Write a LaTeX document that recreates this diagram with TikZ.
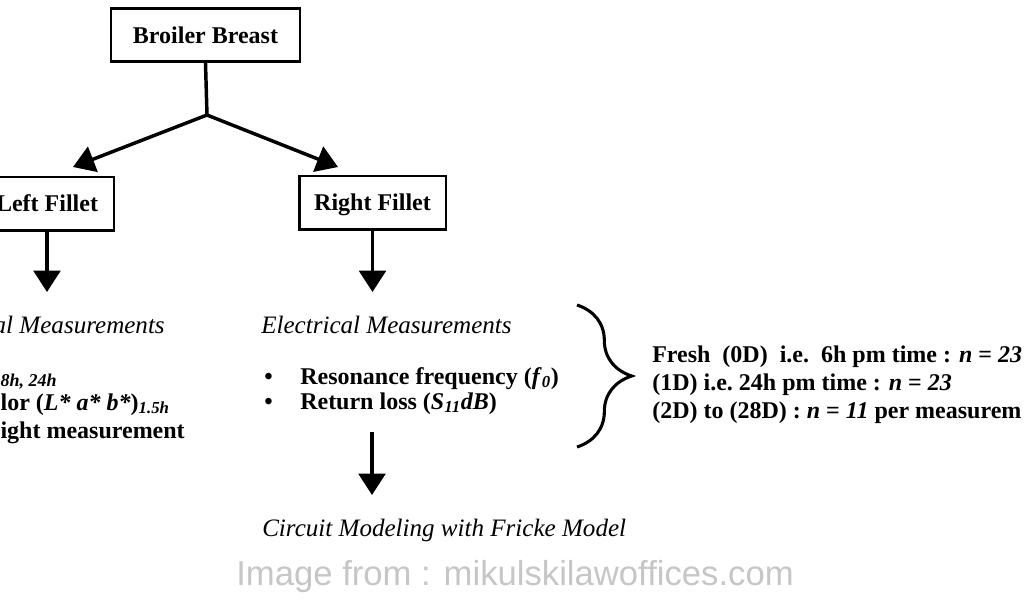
\documentclass[tikz,border=0pt]{standalone}
\usepackage{fontspec}
\setmainfont{Liberation Serif}
\newfontfamily\markfont{Liberation Sans}
\usetikzlibrary{arrows.meta,decorations.pathreplacing}
\tikzset{
  fillet/.style={draw,line width=2pt,minimum height=40pt,inner sep=0pt,
    text height=13.5pt,text depth=1.5pt,font=\fontsize{18}{22}\selectfont\bfseries},
  flow/.style={line width=2.6pt,-{Triangle[width=20pt,length=16pt]}},
  heading/.style={anchor=base west,inner sep=0pt,font=\fontsize{18.8}{22}\selectfont\itshape},
  item/.style={anchor=base west,inner sep=0pt,font=\fontsize{18}{22}\selectfont\bfseries}
}
\begin{document}
\begin{tikzpicture}[x=0.75pt,y=0.75pt,yscale=-1,xscale=1]
                  \useasboundingbox (0,0) rectangle (1024,600);
                  \node[fillet,minimum width=141.75pt] (breast) at (205.5,35) {Broiler Breast};
                  \node[fillet,minimum width=100.5pt] (leftf) at (47,203.5) {Left Fillet};
                  \node[fillet,minimum width=110pt] (rightf) at (372.5,202.5) {Right Fillet};

                  \coordinate (split) at (207,115);
                  \coordinate (ltip) at (73,167);
                  \coordinate (rtip) at (338,167);
                  \draw[line width=2.6pt] (breast.south) -- (split);
                  \draw[flow] (split) -- (ltip);
                  \draw[flow] (split) -- (rtip);
                  \draw[flow] (leftf.south) -- (leftf.south |- 0,292);
                  \draw[flow] (rightf.south) -- (rightf.south |- 0,292);

                  \node[heading,anchor=base east] (physmeas) at (165,333) {al Measurements};
                  \node[anchor=base east,inner sep=0pt,font=\fontsize{13.5}{16}\selectfont\bfseries\itshape] (hours) at (57,386) {8h, 24h};
                  \node[item,anchor=base east] (colour) at (170,410) {lor (\textit{L* a* b*})\textsubscript{\itshape 1.5h}};
                  \node[item,anchor=base east] (weight) at (185,438) {ight measurement};

                  \node[heading] (elecmeas) at (261,333) {Electrical Measurements};
                  \node[item] (bulla) at (264,384) {\textbullet};
                  \node[item] (bullb) at (264,409) {\textbullet};
                  \node[item] (reso) at (300,384) {Resonance frequency (\textit{f}\textsubscript{\itshape 0})};
                  \node[item] (loss) at (300,409) {Return loss (\textit{S\textsubscript{11}dB})};

                  \coordinate (btop) at (577,305);
                  \coordinate (bbot) at (577,447);
                  \draw[line width=2.3pt,decorate,decoration={brace,amplitude=41pt}] (btop) -- (bbot);
                  \node[item] (fresh) at (652,362) {Fresh\ \ (0D)\ \ i.e.\ \ 6h\ pm\ time : \textit{n} = \textit{23}};
                  \node[item] (oneday) at (652,390) {(1D) i.e.\ 24h pm time : \textit{n} = \textit{23}};
                  \node[item] (later) at (652,418) {(2D) to (28D) : \textit{n} = \textit{11} per measurem};

                  \coordinate (elec) at (372,432);
                  \coordinate (circ) at (372,495);
                  \draw[flow] (elec) -- (circ);
                  \node[heading] (model) at (262,536) {Circuit Modeling with Fricke Model};

                  \node[font=\markfont\fontsize{26}{30}\selectfont,text=gray!45] (mark) at (515,577) {Image from : mikulskilawoffices.com};
              \end{tikzpicture}
\end{document}
